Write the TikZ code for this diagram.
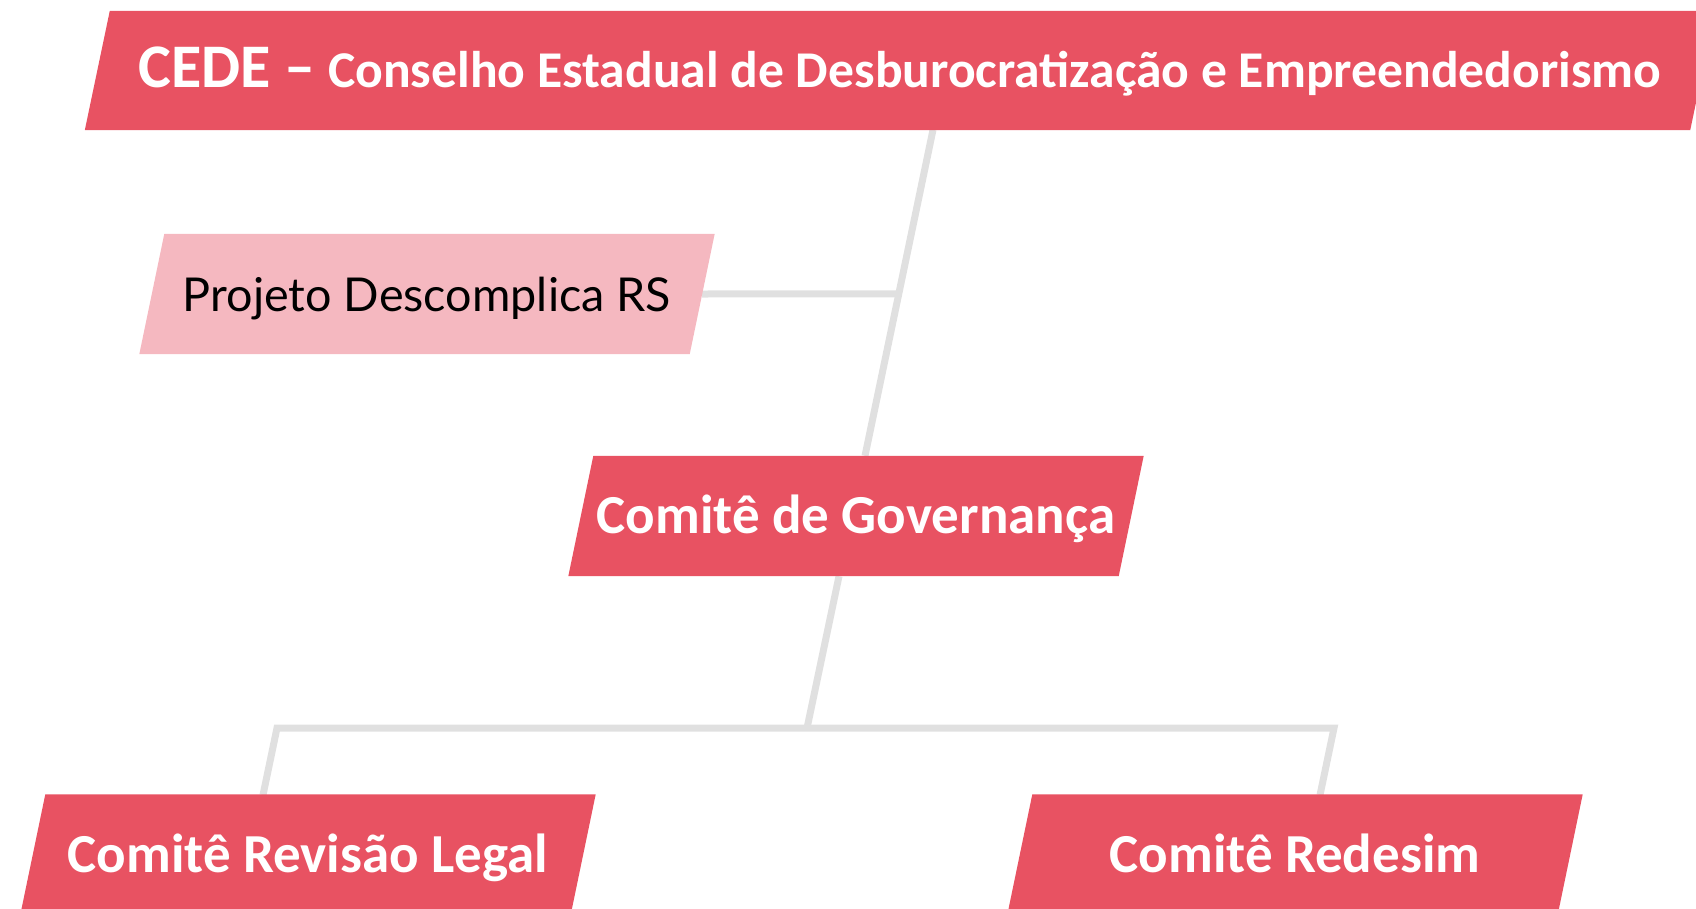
\documentclass[tikz,border=0pt]{standalone}
\usepackage{fontspec}
\setmainfont{Lato}
\newfontfamily\boxfont{Carlito}
\usetikzlibrary{calc,backgrounds}

\definecolor{cedered}{RGB}{232,82,98}
\definecolor{cedepink}{RGB}{245,184,192}
\definecolor{linkgray}{RGB}{224,224,224}

\tikzset{
  box/.style={rectangle, inner sep=0pt, minimum width=550pt, minimum height=120pt,
    text height=35pt, text depth=0pt, text=white,
    font=\boxfont\bfseries\fontsize{55}{60}\selectfont},
  subbox/.style={box, text=black, text height=34pt, font=\fontsize{46.7}{56}\selectfont},
  link/.style={draw=linkgray, line width=7pt},
}

\begin{document}
\begin{tikzpicture}[x=1pt, y=-1pt]
    \useasboundingbox (0,0) rectangle (1696,908);
    \node[box, minimum width=1605pt, minimum height=119pt, text height=33pt] (cede) at (900,70.5)
      {{\fontsize{62}{64}\selectfont CEDE –} \fontsize{51.6}{60}\selectfont Conselho Estadual de Desburocratização e Empreendedorismo};
    \node[subbox] (proj) at (427,294) {Projeto Descomplica RS};
    \node[box] (gov) at (856,516) {Comitê de Governança};
    \node[box] (rev) at (308,854.5) {Comitê Revisão Legal};
    \node[box] (redesim) at (1295,854.5) {Comitê Redesim};
    \coordinate (govin) at ([xshift=9pt]gov.north);
    \coordinate (govout) at ([xshift=-17pt]gov.south);
    \coordinate (cedeout) at ($(govin)+(68,-326)$);
    \coordinate (projjoin) at ($(govin)!0.497!(cedeout)$);
    \coordinate (busmid) at ($(govout)+(-32,152)$);
    \coordinate (busleft) at (277,728);
    \coordinate (busright) at (1334,728);
    \begin{scope}[on background layer]
      \draw[link] (cedeout) -- (govin);
      \draw[link] (proj.east) -- (projjoin);
      \draw[link] (govout) -- (busmid);
      \draw[link] ($(busleft)+(-14,67)$) -- (busleft) -- (busright) -- ($(busright)+(-14,67)$);
      \foreach \n/\c in {cede/cedered, proj/cedepink, gov/cedered, rev/cedered, redesim/cedered}
        \fill[\c] ([xshift=-12.5pt]\n.south west) -- ([xshift=-12.5pt]\n.south east)
          -- ([xshift=12.5pt]\n.north east) -- ([xshift=12.5pt]\n.north west) -- cycle;
    \end{scope}
\end{tikzpicture}
\end{document}
